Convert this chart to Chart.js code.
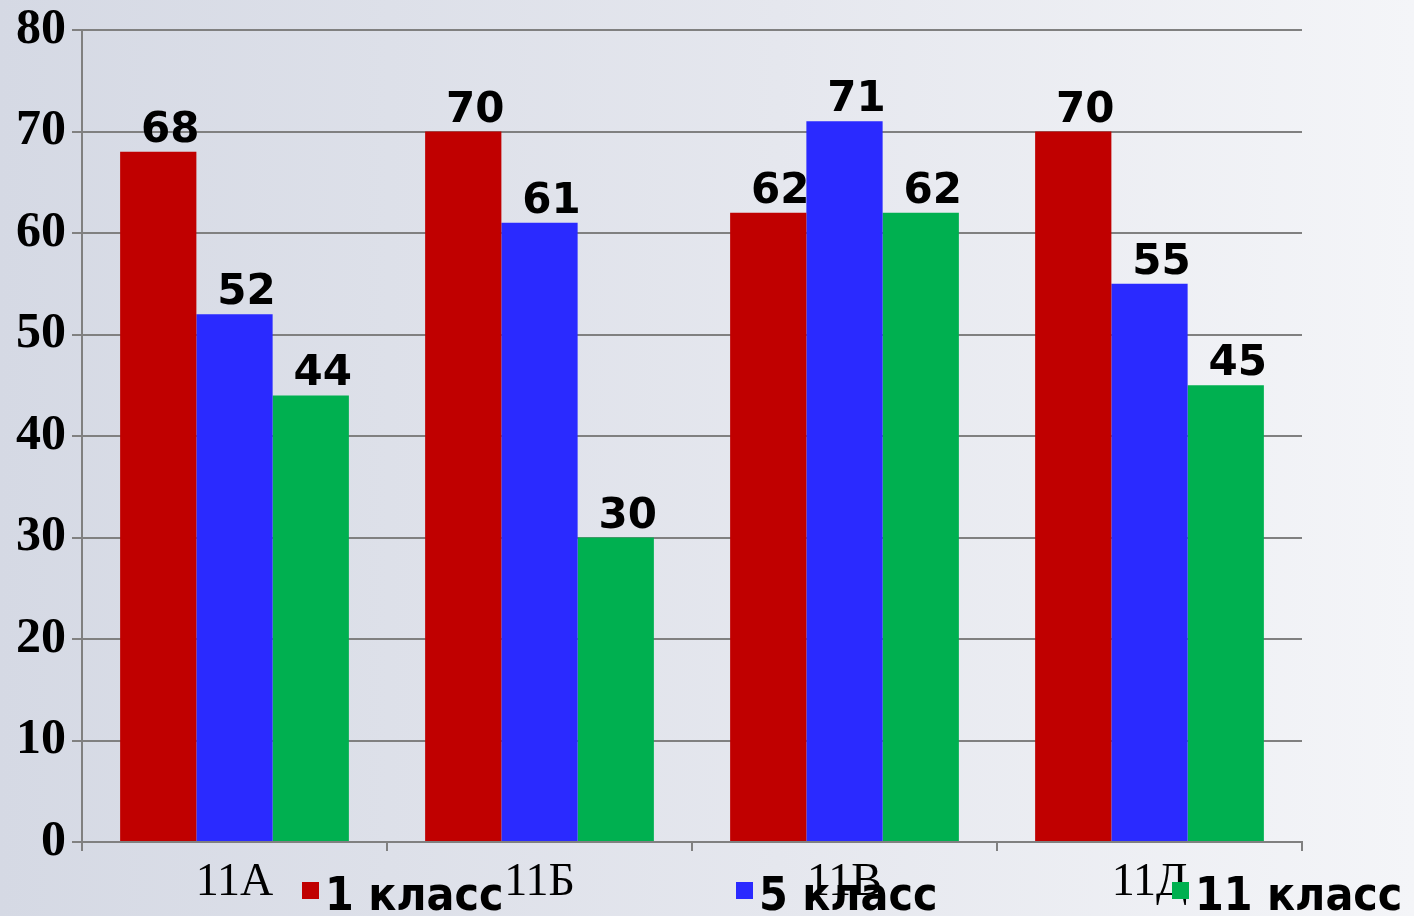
<!DOCTYPE html>
<html>
<head>
<meta charset="utf-8">
<script src="https://cdn.jsdelivr.net/npm/chart.js@4/dist/chart.umd.min.js"></script>
<style>
  html, body { margin: 0; padding: 0; }
  #wrap { width: 1414px; height: 916px; position: relative; }
</style>
</head>
<body>
<div id="wrap"><canvas id="c" width="1414" height="916"></canvas></div>
<script>
// Классы и результаты по годам обучения
const categories = ['11А', '11Б', '11В', '11Д'];
const seriesNames = ['1 класс', '5 класс', '11 класс'];
const grade1 = [68, 70, 62, 70];
const grade5 = [52, 61, 71, 55];
const grade11 = [44, 30, 62, 45];
const yTicks = [0, 10, 20, 30, 40, 50, 60, 70, 80];

const colors = ['#c00000', '#2a2aff', '#00b050'];

// Фон страницы: мягкий горизонтальный градиент
const backgroundPlugin = {
  id: 'bgGradient',
  beforeDraw(chart) {
    const { ctx, width, height } = chart;
    const g = ctx.createLinearGradient(0, 0, width, 0);
    g.addColorStop(0, '#d5d9e4');
    g.addColorStop(0.55, '#e5e7ee');
    g.addColorStop(1, '#f4f5f8');
    ctx.save();
    ctx.fillStyle = g;
    ctx.fillRect(0, 0, width, height);
    ctx.restore();
  }
};

// Подписи значений над столбцами
const valueLabels = {
  id: 'valueLabels',
  afterDatasetsDraw(chart) {
    const { ctx } = chart;
    ctx.save();
    ctx.font = 'bold 42px "DejaVu Sans"';
    ctx.fillStyle = '#000';
    ctx.textAlign = 'center';
    ctx.textBaseline = 'alphabetic';
    chart.data.datasets.forEach((ds, di) => {
      const meta = chart.getDatasetMeta(di);
      meta.data.forEach((bar, i) => {
        ctx.fillText(String(ds.data[i]), bar.x + 12, bar.y - 10);
      });
    });
    ctx.restore();
  }
};

// Легенда внизу, поверх подписей категорий
const bottomLegend = {
  id: 'bottomLegend',
  afterDraw(chart) {
    const { ctx } = chart;
    const boxX = [302, 736, 1172];
    ctx.save();
    ctx.font = 'bold 46px "DejaVu Sans Condensed", "DejaVu Sans"';
    ctx.textBaseline = 'alphabetic';
    ctx.textAlign = 'left';
    chart.data.datasets.forEach((ds, di) => {
      ctx.fillStyle = ds.backgroundColor;
      ctx.fillRect(boxX[di], 882, 17, 17);
      ctx.fillStyle = '#000';
      ctx.fillText(ds.label, boxX[di] + 23, 910);
    });
    ctx.restore();
  }
};

new Chart(document.getElementById('c'), {
  type: 'bar',
  data: {
    labels: categories,
    datasets: [
      { label: seriesNames[0], data: grade1, backgroundColor: colors[0] },
      { label: seriesNames[1], data: grade5, backgroundColor: colors[1] },
      { label: seriesNames[2], data: grade11, backgroundColor: colors[2] }
    ].map(d => Object.assign(d, {
      borderWidth: 0,
      categoryPercentage: 0.75,
      barPercentage: 1.0
    }))
  },
  options: {
    responsive: false,
    animation: false,
    devicePixelRatio: 1,
    layout: { padding: { top: 30, right: 112, left: 0, bottom: 0 } },
    plugins: {
      legend: { display: false },
      tooltip: { enabled: false }
    },
    scales: {
      x: {
        grid: {
          display: true,
          drawOnChartArea: false,
          drawTicks: true,
          tickLength: 9,
          color: '#808080',
          lineWidth: 2,
          offset: true
        },
        border: { display: true, color: '#808080', width: 2 },
        ticks: {
          color: '#000',
          font: { family: '"Liberation Serif"', size: 46 },
          padding: 4
        },
        afterFit(scale) { scale.height = 74; }
      },
      y: {
        min: 0,
        max: 80,
        afterBuildTicks(scale) { scale.ticks = yTicks.map(v => ({ value: v })); },
        grid: {
          color: '#808080',
          lineWidth: 2,
          drawTicks: true,
          tickLength: 10
        },
        border: { display: true, color: '#808080', width: 2 },
        ticks: {
          color: '#000',
          font: { family: '"Liberation Serif"', size: 50, weight: 'bold' },
          padding: 6
        },
        afterFit(scale) {
          scale.width = 82;
          scale.paddingTop = 0;
          scale.paddingBottom = 0;
        }
      }
    }
  },
  plugins: [backgroundPlugin, valueLabels, bottomLegend]
});
</script>
</body>
</html>
